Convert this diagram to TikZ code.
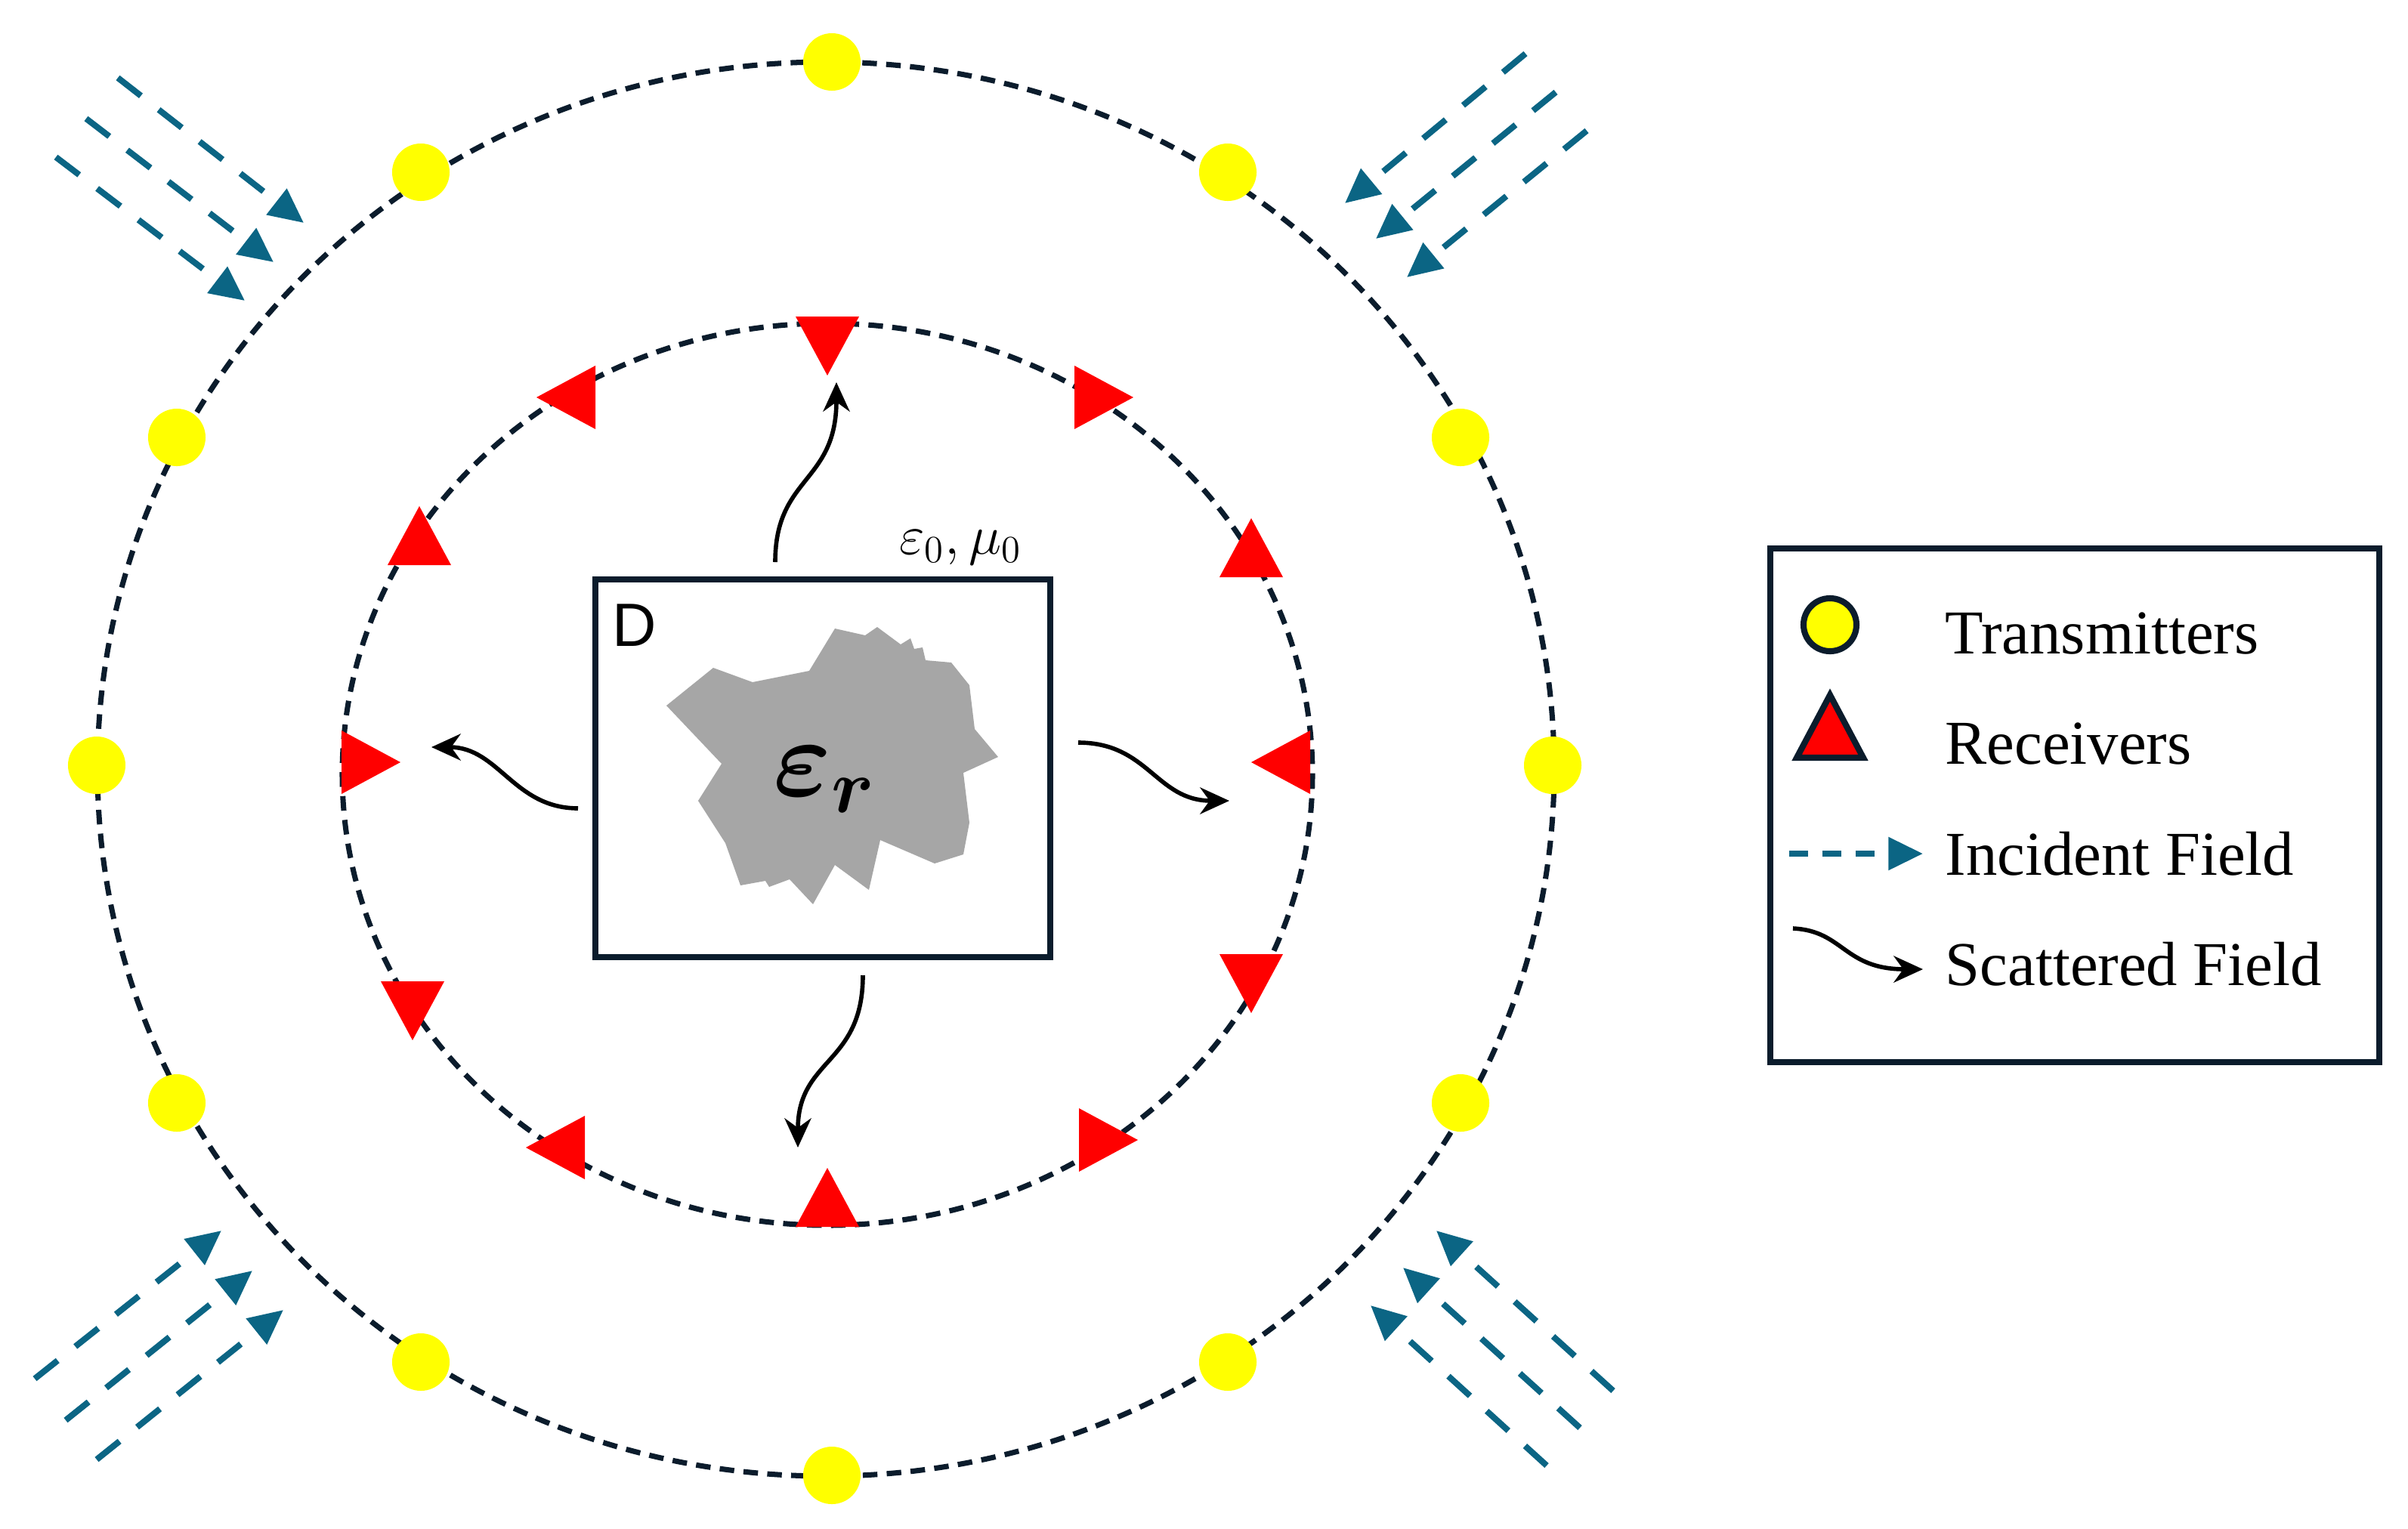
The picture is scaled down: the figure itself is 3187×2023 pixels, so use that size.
\documentclass[tikz,border=0pt]{standalone}
\usepackage{fontspec}
\usepackage{bm}
\setmainfont{Liberation Serif}
\newfontfamily\dsans{Liberation Sans}
\usetikzlibrary{arrows.meta}
\definecolor{navy}{HTML}{0B1C2C}
\definecolor{inc}{HTML}{0B6584}
\definecolor{rred}{HTML}{FF0000}
\definecolor{ylw}{HTML}{FFFF00}
\definecolor{obj}{HTML}{A6A6A6}
\begin{document}
\begin{tikzpicture}[x=0.01cm,y=-0.01cm,
  ring/.style={navy,line width=2pt,dash pattern=on 5.5pt off 3.5pt},
  incf/.style={inc,line width=2.3pt,dash pattern=on 11pt off 8.5pt,-{Triangle[length=13pt,width=12pt]}},
  scat/.style={black,line width=1.6pt,-{Stealth[length=11pt,width=10pt]}},
  rx/.pic={\fill[rred] (52,0)--(-26,42)--(-26,-42)--cycle;},
  lab/.style={font=\fontsize{23.5}{26}\selectfont,anchor=west,inner sep=0pt}]
\useasboundingbox (0,0) rectangle (3187,2023);
% rings
\draw[ring] (1093,1018) ellipse [x radius=964,y radius=936];
\draw[ring] (1095,1025) ellipse [x radius=642,y radius=597];
% transmitters
\foreach \n/\p in {t1/{(1101,82)},t2/{(557,228)},t3/{(1625,228)},t4/{(234,579)},t5/{(1933,579)},t6/{(128,1013)},t7/{(2055,1013)},t8/{(234,1460)},t9/{(1933,1460)},t10/{(557,1803)},t11/{(1625,1803)},t12/{(1101,1953)}}
  \node[circle,fill=ylw,inner sep=0pt,minimum size=0.76cm] (\n) at \p {};
% receivers
\foreach \p/\a in {{(1095,445)}/-90,{(762,526)}/180,{(1448,526)}/0,{(555,722)}/90,{(1656,738)}/90,{(478,1009)}/0,{(1708,1009)}/180,{(546,1325)}/-90,{(1656,1289)}/-90,{(748,1519)}/180,{(1454,1509)}/0,{(1095,1598)}/90}
  \pic[rotate=\a] at \p {rx};
% domain
\node[draw=navy,line width=2.3pt,minimum width=6.01cm,minimum height=4.99cm,inner sep=0pt] (D) at (1089,1017) {};
\node[font=\dsans\fontsize{23}{26}\selectfont,inner sep=0pt] (Dl) at (840,828) {D};
\fill[obj] (882,934)--(944,884)--(996,903)--(1071,888)--(1105,832)--(1145,841)--(1161,830)--(1192,853)--(1205,845)--(1210,859)--(1221,857)--(1225,874)--(1259,877)--(1283,907)--(1290,965)--(1321,1002)--(1275,1023)--(1283,1089)--(1275,1131)--(1237,1143)--(1165,1112)--(1150,1178)--(1105,1145)--(1076,1197)--(1045,1164)--(1018,1174)--(1013,1166)--(980,1172)--(960,1116)--(924,1060)--(955,1011)--cycle;
\node[font=\fontsize{20}{22}\selectfont,scale=2,inner sep=0pt] (er) at (1092,1032) {$\bm{\varepsilon_r}$};
\node[font=\fontsize{21}{24}\selectfont,inner sep=0pt] (em) at (1271,725) {$\varepsilon_0,\mu_0$};
% scattered
\coordinate (s1a) at (1026,744); \coordinate (s1b) at (1107,506);
\coordinate (s2a) at (765,1070); \coordinate (s2b) at (571,989);
\coordinate (s3a) at (1427,983); \coordinate (s3b) at (1627,1060);
\coordinate (s4a) at (1142,1291); \coordinate (s4b) at (1056,1519);
\draw[scat] (s1a) .. controls (1026,630) and (1107,640) .. (s1b);
\draw[scat] (s2a) .. controls (680,1070) and (660,989) .. (s2b);
\draw[scat] (s3a) .. controls (1520,983) and (1530,1060) .. (s3b);
\draw[scat] (s4a) .. controls (1142,1410) and (1056,1400) .. (s4b);
% incident
\foreach \a/\b in {{(156,103)}/{(402,295)},{(114,157)}/{(362,347)},{(74,208)}/{(324,398)},
  {(2019,71)}/{(1780,269)},{(2059,122)}/{(1821,316)},{(2100,173)}/{(1862,367)},
  {(46,1825)}/{(293,1629)},{(87,1880)}/{(334,1682)},{(128,1932)}/{(375,1734)},
  {(2135,1841)}/{(1901,1629)},{(2091,1890)}/{(1857,1678)},{(2047,1940)}/{(1814,1728)}}
  \draw[incf] \a -- \b;
% legend
\node[draw=navy,line width=2.3pt,minimum width=8.05cm,minimum height=6.79cm,inner sep=0pt] (leg) at (2746,1066) {};
\node[circle,fill=ylw,draw=navy,line width=2.3pt,inner sep=0pt,minimum size=0.7cm] (lt) at (2422,827) {};
\fill[rred,draw=navy,line width=2.3pt,line join=miter] (2422,920)--(2466,1003)--(2378,1003)--cycle;
\coordinate (li1) at (2368,1130); \coordinate (li2) at (2545,1130);
\draw[incf,dash pattern=on 7pt off 5.5pt] (li1) -- (li2);
\coordinate (ls1) at (2373,1229); \coordinate (ls2) at (2545,1283);
\draw[scat] (ls1) .. controls (2440,1232) and (2440,1283) .. (ls2);
\node[lab] (l1) at (2574,839) {Transmitters};
\node[lab] (l2) at (2574,985) {Receivers};
\node[lab] (l3) at (2574,1130) {Incident Field};
\node[lab] (l4) at (2574,1276) {Scattered Field};
\end{tikzpicture}
\end{document}
